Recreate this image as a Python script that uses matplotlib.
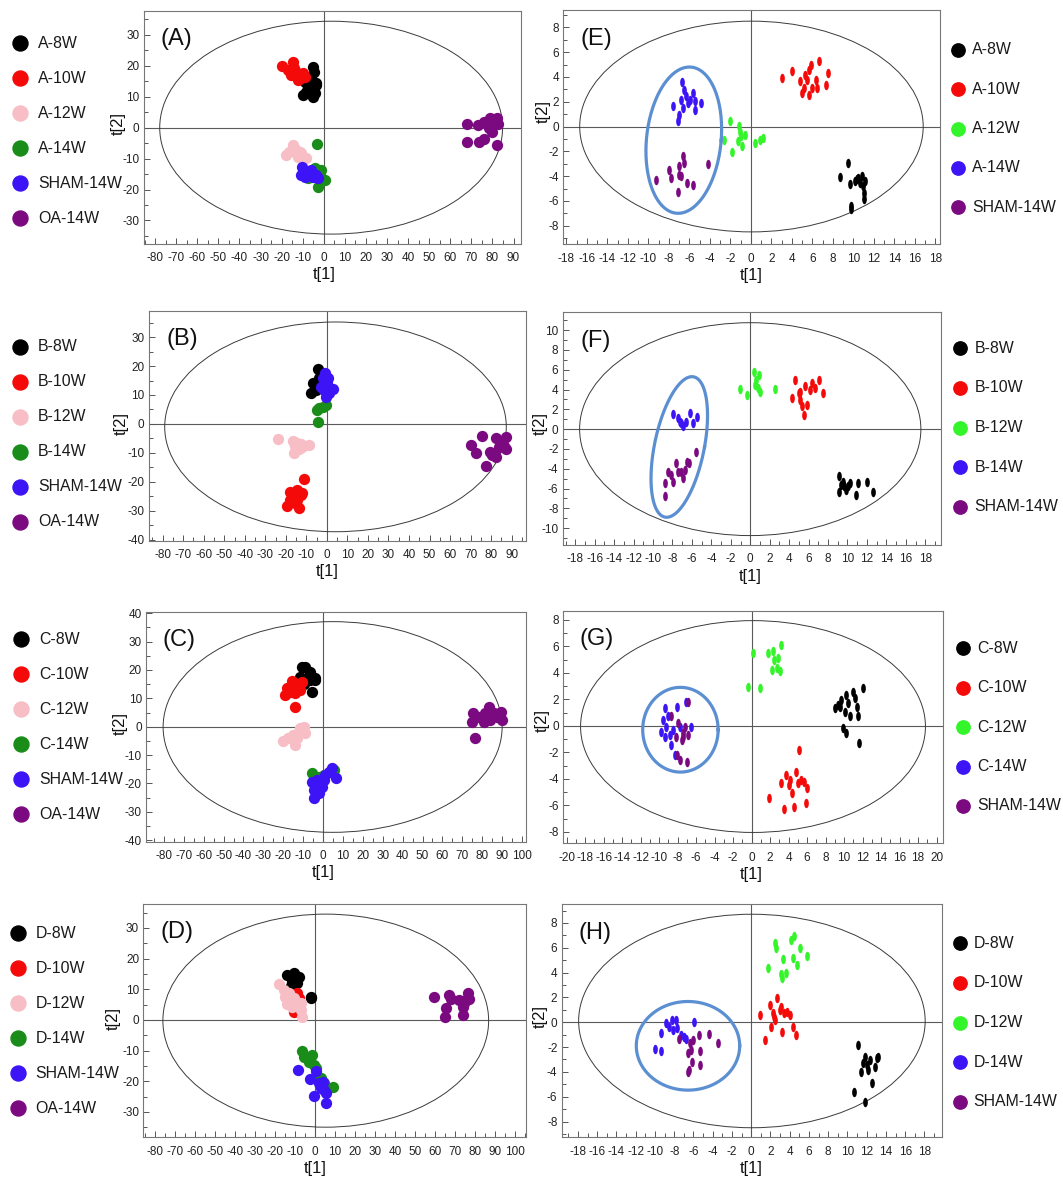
import numpy as np
import matplotlib.pyplot as plt
from matplotlib.patches import Ellipse
from matplotlib.path import Path
from matplotlib.lines import Line2D
from matplotlib.ticker import MultipleLocator

plt.rcParams['font.family'] = ['Liberation Sans', 'DejaVu Sans']
plt.rcParams['axes.unicode_minus'] = False

W, H = 1063, 1178

# colours
BLACK, RED, PINK = '#000000', '#f50a0a', '#f7bec6'
DKGREEN, LIME = '#1a8c1a', '#33f52a'
BLUE, PURPLE = '#3c14f5', '#7b0a80'

left_colors = [BLACK, RED, PINK, DKGREEN, BLUE, PURPLE]
right_colors = [BLACK, RED, LIME, BLUE, PURPLE]

# ---------------- panel A ----------------
a_labels = ['A-8W', 'A-10W', 'A-12W', 'A-14W', 'SHAM-14W', 'OA-14W']
a_8w_x = [-5.1, -4.8, -5.9, -9.1, -3.5, -7.5, -9.9, -5.1, -4.3, -6.7, -3.8, -8.5]
a_8w_y = [19.7, 18.1, 15.9, 14.9, 14.3, 13.0, 10.6, 10.0, 11.1, 12.2, 13.8, 11.5]
a_10w_x = [-19.6, -14.7, -17.1, -13.1, -15.5, -9.9, -10.7, -12.3, -9.1, -13.9]
a_10w_y = [19.9, 21.3, 18.6, 18.1, 17.0, 17.6, 15.9, 15.4, 16.5, 19.2]
a_12w_x = [-17.9, -14.7, -13.1, -10.7, -8.3, -16.3, -12.3, -13.9, -11.5]
a_12w_y = [-8.8, -5.6, -7.2, -8.3, -9.9, -7.8, -9.4, -6.7, -7.8]
a_14w_x = [-3.2, -4.3, -1.1, -2.7, 0.5, -7.5, -1.9, -5.1]
a_14w_y = [-5.4, -13.1, -13.7, -19.1, -16.9, -16.4, -15.3, -14.8]
a_sham_x = [-10.3, -10.7, -8.3, -6.7, -5.1, -3.5, -2.7, -9.1, -5.9]
a_sham_y = [-12.6, -15.3, -14.2, -14.8, -15.8, -15.3, -16.4, -15.8, -13.7]
a_oa_x = [67.8, 67.8, 73.1, 73.4, 75.8, 75.8, 78.2, 79.0, 80.6, 82.2, 82.2, 82.7, 79.8]
a_oa_y = [1.2, -4.5, 0.9, -4.5, -3.8, 1.9, -0.2, 3.0, 1.2, 3.0, -5.6, 1.2, -1.3]

# ---------------- panel B ----------------
b_labels = ['B-8W', 'B-10W', 'B-12W', 'B-14W', 'SHAM-14W', 'OA-14W']
b_8w_x = [-4.3, -6.6, -7.6, -5.4, -3.0, -3.8, -5.9]
b_8w_y = [18.9, 14.0, 10.6, 11.7, 13.5, 15.8, 12.3]
b_10w_x = [-11.2, -19.4, -17.8, -16.1, -14.5, -13.7, -12.8, -12.0, -15.3, -17.8, -14.5]
b_10w_y = [-19.1, -28.3, -23.4, -25.1, -22.8, -29.1, -24.5, -23.9, -27.4, -26.2, -26.2]
b_12w_x = [-24.0, -16.4, -15.3, -16.1, -13.7, -12.8, -8.7, -14.5, -12.0]
b_12w_y = [-5.3, -5.8, -7.6, -10.1, -8.7, -6.9, -7.4, -6.4, -7.8]
b_14w_x = [-4.3, -3.8, -2.1, -0.5, -4.6]
b_14w_y = [0.7, 5.4, 6.0, 6.6, 4.8]
b_sham_x = [-2.1, -1.0, 0.3, 2.8, -1.3, 1.2, -0.5, -3.0, 0.7]
b_sham_y = [15.8, 17.5, 14.0, 12.0, 11.7, 10.6, 9.4, 12.9, 15.8]
b_oa_x = [70.2, 72.7, 75.7, 79.3, 82.6, 82.6, 83.9, 85.0, 87.2, 87.5, 77.3, 80.6, 86.2]
b_oa_y = [-7.4, -9.9, -4.1, -9.6, -4.9, -11.3, -7.8, -6.7, -8.7, -4.4, -14.5, -10.7, -7.6]

# ---------------- panel C ----------------
c_labels = ['C-8W', 'C-10W', 'C-12W', 'C-14W', 'SHAM-14W', 'OA-14W']
c_8w_x = [-10.7, -9.0, -6.8, -3.9, -3.9, -5.6, -11.5, -8.1, -9.8, -6.4]
c_8w_y = [20.9, 20.9, 19.4, 17.0, 16.4, 12.3, 17.6, 17.0, 15.2, 16.4]
c_10w_x = [-19.1, -18.3, -15.7, -14.0, -13.2, -11.5, -10.7, -16.6, -14.0, -12.4]
c_10w_y = [11.1, 13.5, 16.2, 7.0, 14.1, 12.9, 15.8, 12.3, 11.7, 15.2]
c_12w_x = [-20.0, -17.4, -14.9, -14.0, -13.2, -11.5, -9.8, -9.0, -12.4]
c_12w_y = [-4.9, -4.1, -2.9, -6.5, -4.1, -0.6, 0.0, -2.1, -2.3]
c_14w_x = [-5.6, -2.2, 0.3, 5.4]
c_14w_y = [-16.2, -17.6, -17.0, -15.2]
c_sham_x = [-5.6, -4.7, -3.9, -2.2, -1.4, -0.5, 1.2, 2.9, 4.6, 6.3, 0.3, -3.0, -4.7]
c_sham_y = [-19.4, -25.2, -21.7, -23.5, -19.9, -21.1, -17.0, -15.8, -14.7, -18.2, -18.8, -18.8, -22.3]
c_oa_x = [75.6, 76.5, 74.8, 78.2, 81.6, 83.2, 85.8, 87.5, 89.2, 90.0, 80.7, 84.1]
c_oa_y = [4.7, -4.1, 1.8, 3.5, 4.7, 7.0, 4.7, 3.5, 5.3, 2.3, 1.8, 2.3]

# ---------------- panel D ----------------
d_labels = ['D-8W', 'D-10W', 'D-12W', 'D-14W', 'SHAM-14W', 'OA-14W']
d_8w_x = [-14.0, -10.6, -9.8, -8.1, -11.5, -12.3, -9.0, -2.2, -2.2]
d_8w_y = [14.7, 15.2, 13.0, 14.1, 12.5, 10.9, 12.0, 7.6, 7.1]
d_10w_x = [-9.0, -10.6, -8.1, -9.8]
d_10w_y = [8.7, 2.7, 7.1, 4.9]
d_12w_x = [-18.2, -15.7, -14.9, -14.0, -12.3, -11.5, -10.6, -9.0, -7.3, -6.4, -13.2, -7.3]
d_12w_y = [11.7, 9.8, 7.6, 5.2, 6.5, 4.3, 7.1, 5.4, 3.3, 1.1, 8.7, 5.4]
d_14w_x = [-6.4, -5.6, -3.0, -1.4, 0.3, 2.9, 4.6, 8.8, -0.5]
d_14w_y = [-10.3, -12.0, -13.6, -11.4, -15.8, -19.0, -20.7, -22.0, -14.7]
d_sham_x = [-8.6, -2.5, 0.3, -0.5, 2.9, 3.7, 5.4, 5.4, 2.0, 4.6]
d_sham_y = [-16.3, -19.3, -16.8, -24.8, -22.3, -20.4, -23.9, -27.0, -20.7, -22.8]
d_oa_x = [59.5, 65.4, 65.0, 67.1, 67.9, 72.1, 73.8, 73.8, 75.5, 76.4, 77.2, 74.7]
d_oa_y = [7.4, 3.8, 1.1, 8.2, 6.7, 6.5, 4.3, 1.6, 6.5, 8.7, 6.7, 5.4]

# ---------------- panel E ----------------
e_labels = ['A-8W', 'A-10W', 'A-12W', 'A-14W', 'SHAM-14W']
e_8w_x = [9.47, 8.70, 9.63, 10.13, 10.47, 10.80, 11.13, 10.96, 11.06, 11.06, 9.80, 9.80, 10.30, 10.63]
e_8w_y = [-2.98, -4.06, -4.62, -4.41, -4.14, -4.0, -4.41, -4.81, -5.35, -5.83, -6.42, -6.69, -4.27, -4.54]
e_10w_x = [2.99, 3.99, 4.82, 4.98, 5.65, 5.32, 5.65, 5.81, 6.64, 6.31, 6.48, 7.48, 7.31, 5.98, 5.15, 5.48]
e_10w_y = [3.92, 4.46, 3.66, 2.72, 2.58, 4.19, 4.6, 5.0, 5.27, 3.79, 3.12, 4.33, 3.39, 3.12, 3.12, 3.79]
e_12w_x = [-2.06, -2.66, -1.83, -1.16, -1.0, -0.83, -0.6, -1.06, 0.4, 0.93, 1.16, -1.26]
e_12w_y = [0.43, -1.05, -2.07, 0.03, -0.78, -1.59, -0.65, -0.46, -1.32, -1.05, -0.91, -1.18]
e_14w_x = [-6.71, -7.57, -6.98, -6.81, -6.64, -6.31, -6.15, -5.65, -5.48, -5.48, -4.88, -7.08, -6.48, -5.98]
e_14w_y = [3.58, 1.69, 0.97, 2.18, 1.51, 2.45, 1.91, 2.72, 2.04, 1.37, 1.91, 0.43, 2.98, 2.18]
e_sham_x = [-9.3, -7.97, -7.81, -7.14, -6.98, -6.81, -6.58, -6.25, -5.65, -4.15, -6.98, -6.48]
e_sham_y = [-4.35, -3.52, -4.14, -5.3, -3.2, -4.0, -2.39, -4.54, -4.68, -3.06, -3.87, -2.93]

# ---------------- panel F ----------------
f_labels = ['B-8W', 'B-10W', 'B-12W', 'B-14W', 'SHAM-14W']
f_8w_x = [9.09, 9.09, 9.34, 9.69, 10.03, 10.21, 11.08, 10.91, 11.96, 12.59, 9.51, 9.86]
f_8w_y = [-4.71, -6.3, -5.62, -5.79, -5.79, -5.45, -5.45, -6.63, -5.29, -6.3, -5.29, -6.13]
f_10w_x = [4.62, 4.27, 4.97, 5.14, 5.31, 5.49, 5.66, 5.84, 6.36, 6.71, 7.06, 7.48, 5.14, 6.19]
f_10w_y = [4.98, 3.13, 3.64, 2.96, 2.29, 1.45, 4.31, 2.46, 4.65, 4.14, 4.98, 3.7, 3.8, 3.97]
f_12w_x = [-1.05, -0.35, 0.42, 0.59, 0.77, 0.94, 1.05, 2.59, 0.49]
f_12w_y = [4.04, 3.47, 5.82, 4.98, 4.14, 5.49, 3.8, 4.04, 4.48]
f_14w_x = [-7.9, -7.45, -7.1, -6.92, -6.64, -6.22, -5.87, -5.52, -7.27]
f_14w_y = [1.55, 1.11, 0.61, 0.27, 0.77, 1.68, 0.67, 1.21, 0.77]
f_sham_x = [-8.74, -8.74, -8.5, -8.15, -7.9, -7.62, -7.45, -6.92, -6.75, -6.5, -6.29, -5.59, -7.1]
f_sham_y = [-6.8, -5.45, -4.28, -4.61, -5.29, -3.43, -4.28, -4.95, -4.11, -3.27, -3.43, -2.26, -4.28]

# ---------------- panel G ----------------
g_labels = ['C-8W', 'C-10W', 'C-12W', 'C-14W', 'SHAM-14W']
g_8w_x = [8.97, 9.34, 9.71, 10.07, 10.26, 10.44, 10.63, 10.92, 11.18, 11.36, 11.54, 12.02, 9.89, 10.26, 11.65, 9.6]
g_8w_y = [1.34, 1.59, 1.96, 1.08, 2.34, 1.71, 0.71, 2.59, 2.09, 1.46, 0.76, 2.85, -0.18, -0.55, -1.26, 1.41]
g_10w_x = [5.11, 1.88, 3.2, 3.46, 3.71, 4.01, 4.38, 4.56, 4.82, 5.04, 5.29, 5.66, 5.85, 6.03, 4.19]
g_10w_y = [-1.86, -5.47, -4.33, -6.3, -3.7, -4.46, -5.09, -6.1, -3.45, -4.33, -4.08, -4.21, -5.84, -4.71, -4.08]
g_12w_x = [0.15, -0.4, 0.88, 1.8, 2.17, 2.46, 2.72, 2.9, 3.2, 2.35, 3.09]
g_12w_y = [5.54, 2.97, 2.85, 5.54, 4.23, 4.99, 4.36, 5.11, 6.12, 5.62, 4.11]
g_14w_x = [-9.78, -9.6, -9.41, -9.23, -9.04, -8.86, -8.68, -8.49, -8.31, -8.05, -7.76, -7.1, -6.58, -9.41]
g_14w_y = [-0.43, 0.45, 1.34, -0.05, 0.71, -0.68, -1.44, -0.3, -2.19, 1.46, -0.05, 1.84, -0.05, -0.81]
g_sham_x = [-8.68, -8.2, -7.94, -7.76, -7.57, -7.39, -7.21, -7.02, -6.84, -6.84, -8.05, -7.46]
g_sham_y = [0.71, -0.81, 0.2, -2.57, -1.06, -0.55, -0.05, -2.7, -0.68, 1.84, -2.19, -0.81]

# ---------------- panel H ----------------
h_labels = ['D-8W', 'D-10W', 'D-12W', 'D-14W', 'SHAM-14W']
h_8w_x = [11.1, 10.64, 11.8, 11.8, 11.45, 11.98, 12.33, 12.51, 12.86, 13.04, 13.22, 11.63, 12.16]
h_8w_y = [-1.83, -5.59, -2.77, -6.4, -3.98, -3.44, -3.04, -4.92, -3.58, -2.9, -2.77, -3.31, -3.84]
h_10w_x = [0.95, 1.45, 1.91, 2.08, 2.26, 2.37, 2.72, 2.97, 3.14, 3.22, 3.43, 3.67, 4.03, 4.38, 4.63, 2.44]
h_10w_y = [0.59, -1.42, 1.4, -0.35, 0.73, 0.46, 1.94, 0.99, 1.26, -0.75, 0.73, 0.86, 0.59, -0.35, -1.02, 0.19]
h_12w_x = [1.73, 2.44, 2.61, 3.22, 3.32, 3.57, 4.13, 4.38, 4.49, 4.73, 5.09, 5.8, 3.14]
h_12w_y = [4.35, 6.37, 5.97, 3.55, 5.08, 4.0, 6.64, 5.16, 6.91, 4.62, 5.97, 5.3, 3.9]
h_14w_x = [-10.0, -9.36, -9.4, -8.87, -8.23, -8.16, -7.81, -7.74, -7.28, -7.03, -6.75, -5.97, -8.52]
h_14w_y = [-2.18, -2.28, -0.89, -0.03, 0.19, -0.62, 0.19, -0.48, -1.02, -1.16, -1.37, 0.05, -0.35]
h_sham_x = [-7.53, -6.57, -6.47, -6.4, -6.22, -6.11, -6.04, -5.41, -5.34, -5.34, -4.35, -3.5, -6.57]
h_sham_y = [-1.37, -2.5, -3.84, -1.69, -2.23, -3.17, -1.42, -1.02, -2.28, -3.44, -0.94, -1.69, -3.98]

# vertically elongated oval marker used by the right-hand plots
_t = np.linspace(0, 2 * np.pi, 40)
oval = Path(np.column_stack([0.5 * np.cos(_t), np.sin(_t)]))

panels = [
    dict(tag='(A)', rect=(143.7, 520.5, 10.7, 244), xlim=(-85.4, 93.3), ylim=(-37.6, 37.8),
         xt=(-80, 90, 10), yt=(-30, 30, 10), minor=(5, 5), hot=(3.5, 0, 81.3, 34.4),
         groups=[(a_8w_x, a_8w_y), (a_10w_x, a_10w_y), (a_12w_x, a_12w_y), (a_14w_x, a_14w_y),
                 (a_sham_x, a_sham_y), (a_oa_x, a_oa_y)],
         labels=a_labels, colors=left_colors, leg=(20.3, 37.9, 43.3, 35.0), t2=(-25, 0.517)),
    dict(tag='(B)', rect=(148.7, 526, 310.7, 540.7), xlim=(-86.8, 97.0), ylim=(-40.3, 39.1),
         xt=(-80, 90, 10), yt=(-40, 30, 10), minor=(5, 5), hot=(4.2, -1, 83.2, 36.2),
         groups=[(b_8w_x, b_8w_y), (b_10w_x, b_10w_y), (b_12w_x, b_12w_y), (b_14w_x, b_14w_y),
                 (b_sham_x, b_sham_y), (b_oa_x, b_oa_y)],
         labels=b_labels, colors=left_colors, leg=(20.3, 37.9, 346.7, 35.0), t2=(-27, 0.51)),
    dict(tag='(C)', rect=(146, 526, 611.7, 841.7), xlim=(-89, 102.0), ylim=(-40.5, 40.5),
         xt=(-80, 100, 10), yt=(-40, 40, 10), minor=(5, 5), hot=(4.8, -0.1, 85.2, 37.1),
         groups=[(c_8w_x, c_8w_y), (c_10w_x, c_10w_y), (c_12w_x, c_12w_y), (c_14w_x, c_14w_y),
                 (c_sham_x, c_sham_y), (c_oa_x, c_oa_y)],
         labels=c_labels, colors=left_colors, leg=(21.3, 38.9, 639.3, 35.0), t2=(-26, 0.515)),
    dict(tag='(D)', rect=(143.3, 526, 904, 1137.3), xlim=(-86, 105.5), ylim=(-38.3, 37.8),
         xt=(-80, 100, 10), yt=(-30, 30, 10), minor=(5, 5), hot=(5.3, -0.25, 81.5, 34.75),
         groups=[(d_8w_x, d_8w_y), (d_10w_x, d_10w_y), (d_12w_x, d_12w_y), (d_14w_x, d_14w_y),
                 (d_sham_x, d_sham_y), (d_oa_x, d_oa_y)],
         labels=d_labels, colors=left_colors, leg=(17.6, 35.5, 933.3, 35.0), t2=(-30, 0.51)),
    dict(tag='(E)', rect=(563.3, 939.6, 10.0, 244.3), xlim=(-18.3, 18.4), ylim=(-9.5, 9.4),
         xt=(-18, 18, 2), yt=(-8, 8, 2), minor=(1, 1), hot=(0.05, 0, 16.75, 8.5),
         groups=[(e_8w_x, e_8w_y), (e_10w_x, e_10w_y), (e_12w_x, e_12w_y), (e_14w_x, e_14w_y),
                 (e_sham_x, e_sham_y)],
         labels=e_labels, colors=right_colors, leg=(958.4, 972, 50, 39.3), t2=(-20, 0.566),
         ring=(-6.55, -1.1, 3.65, 5.9, 0.55)),
    dict(tag='(F)', rect=(562.6, 941.3, 312.3, 545), xlim=(-19.3, 19.65), ylim=(-11.7, 11.8),
         xt=(-18, 18, 2), yt=(-10, 10, 2), minor=(1, 1), hot=(0, 0, 17.55, 10.75),
         groups=[(f_8w_x, f_8w_y), (f_10w_x, f_10w_y), (f_12w_x, f_12w_y), (f_14w_x, f_14w_y),
                 (f_sham_x, f_sham_y)],
         labels=f_labels, colors=right_colors, leg=(960, 974.7, 348.3, 39.6), t2=(-22.4, 0.523),
         ring=(-7.3, -1.8, 2.6, 7.1, 1.3)),
    dict(tag='(G)', rect=(563, 943, 610.7, 843.3), xlim=(-20.4, 20.7), ylim=(-8.87, 8.7),
         xt=(-20, 20, 2), yt=(-8, 8, 2), minor=(1, 1), hot=(0.15, -0.05, 18.65, 8.0),
         groups=[(g_8w_x, g_8w_y), (g_10w_x, g_10w_y), (g_12w_x, g_12w_y), (g_14w_x, g_14w_y),
                 (g_sham_x, g_sham_y)],
         labels=g_labels, colors=right_colors, leg=(962.5, 977, 648.3, 39.4), t2=(-21, 0.53),
         ring=(-7.7, -0.29, 4.08, 3.2, 0.0)),
    dict(tag='(H)', rect=(561.6, 942.4, 904.3, 1137.3), xlim=(-19.7, 19.86), ylim=(-9.27, 9.5),
         xt=(-18, 18, 2), yt=(-8, 8, 2), minor=(1, 1), hot=(0.07, 0.1, 18.0, 8.6),
         groups=[(h_8w_x, h_8w_y), (h_10w_x, h_10w_y), (h_12w_x, h_12w_y), (h_14w_x, h_14w_y),
                 (h_sham_x, h_sham_y)],
         labels=h_labels, colors=right_colors, leg=(960, 973.7, 943.3, 39.6), t2=(-21.4, 0.518),
         ring=(-6.57, -1.9, 5.37, 3.57, 0.0)),
]

fig = plt.figure(figsize=(W / 100, H / 100), dpi=100)

for p in panels:
    l, r, t, b = p['rect']
    ax = fig.add_axes([l / W, 1 - b / H, (r - l) / W, (b - t) / H])
    right_side = len(p['groups']) == 5

    for (xs, ys), col in zip(p['groups'], p['colors']):
        if right_side:
            ax.scatter(xs, ys, s=46, marker=oval, color=col, linewidths=0, zorder=3)
        else:
            ax.scatter(xs, ys, s=66, marker='o', color=col, linewidths=0, zorder=3)

    # Hotelling T2 ellipse and zero lines
    cx, cy, rx, ry = p['hot']
    ax.add_patch(Ellipse((cx, cy), 2 * rx, 2 * ry, fill=False, ec='#3a3a3a', lw=0.7, zorder=2))
    ax.axhline(0, color='#5a5a5a', lw=0.8, zorder=1)
    ax.axvline(0, color='#5a5a5a', lw=0.8, zorder=1)

    if 'ring' in p:
        ex, ey, erx, ery, sh = p['ring']
        tt = np.linspace(0, 2 * np.pi, 300)
        ax.plot(ex + erx * np.cos(tt) + sh * np.sin(tt), ey + ery * np.sin(tt),
                color='#5b8fd2', lw=2.3, zorder=4)

    ax.set_xlim(*p['xlim'])
    ax.set_ylim(*p['ylim'])
    x0, x1, xs_ = p['xt']
    y0, y1, ys_ = p['yt']
    ax.set_xticks(np.arange(x0, x1 + 0.1, xs_))
    ax.set_yticks(np.arange(y0, y1 + 0.1, ys_))
    ax.xaxis.set_minor_locator(MultipleLocator(p['minor'][0]))
    ax.yaxis.set_minor_locator(MultipleLocator(p['minor'][1]))
    ax.tick_params(which='both', direction='in', color='#555555', width=0.7,
                   labelsize=8.5, labelcolor='#222222')
    ax.tick_params(which='major', length=4)
    ax.tick_params(which='minor', length=3)
    ax.tick_params(axis='x', pad=6)
    ax.tick_params(axis='y', pad=3)
    for sp in ax.spines.values():
        sp.set_color('#777777')
        sp.set_linewidth(0.8)

    hpx = b - t
    wpx = r - l
    frac0 = -p['xlim'][0] / (p['xlim'][1] - p['xlim'][0])
    ax.set_xlabel('t[1]', fontsize=12, color='#111111')
    ax.xaxis.label.set_va('center')
    ax.xaxis.set_label_coords(frac0, -31 / hpx)
    ax.set_ylabel('t[2]', fontsize=12, color='#111111')
    ax.yaxis.label.set_va('center')
    ax.yaxis.set_label_coords(p['t2'][0] / wpx, p['t2'][1])

    ax.text(0.088, 0.878, p['tag'], transform=ax.transAxes, fontsize=17,
            ha='center', va='center', color='#111111')

    # legend drawn beside the plot
    mx, tx, y_first, step = p['leg']
    msize = 9.6 if right_side else 10.8
    for i, (lab, col) in enumerate(zip(p['labels'], p['colors'])):
        yy = 1 - (y_first + i * step) / H
        fig.add_artist(Line2D([mx / W], [yy], marker='o', ms=msize, color=col,
                              linestyle='none', transform=fig.transFigure))
        fig.text(tx / W, yy, lab, fontsize=11.4, va='center', ha='left', color='#1a1a1a')

fig.savefig('out.png', dpi=100)
